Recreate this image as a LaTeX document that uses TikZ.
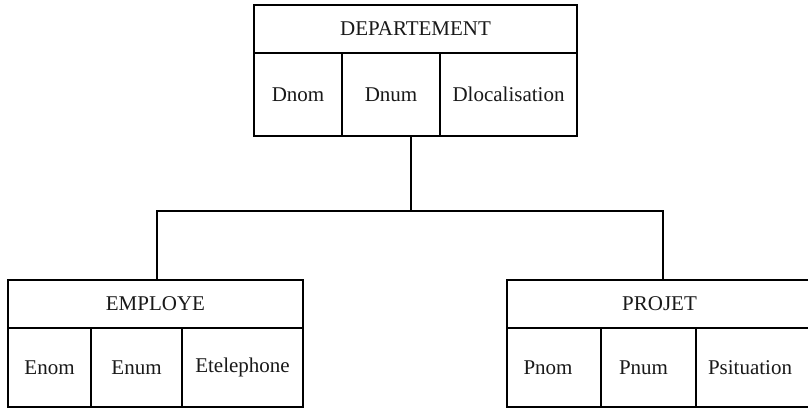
\documentclass[tikz,border=0pt]{standalone}
\usepackage{fontspec}
\setmainfont{Liberation Serif}
\begin{document}
\begin{tikzpicture}[x=1pt,y=-1pt,
  cell/.style={draw, line width=1.5pt, inner sep=0pt, anchor=center,
    font=\fontsize{21}{25}\selectfont, text=black!90},
  link/.style={line width=1.5pt}]
\clip (0,0) rectangle (808,410);
\useasboundingbox (0,0) rectangle (808,410);
\fill[white] (0,0) rectangle (808,410);

% DEPARTEMENT table
\node[cell, minimum width=323pt, minimum height=48pt] (dep) at (415.5,29) {DEPARTEMENT};
\node[cell, minimum width=88pt, minimum height=83pt] (dnom) at (298,94.5) {Dnom};
\node[cell, minimum width=98pt, minimum height=83pt] (dnum) at (391,94.5) {Dnum};
\node[cell, minimum width=137pt, minimum height=83pt] (dloc) at (508.5,94.5) {Dlocalisation};

% EMPLOYE table
\node[cell, minimum width=295pt, minimum height=48pt] (emp) at (155.5,304) {EMPLOYE};
\node[cell, minimum width=83pt, minimum height=79pt] (enom) at (49.5,367.5) {Enom};
\node[cell, minimum width=91pt, minimum height=79pt] (enum) at (136.5,367.5) {Enum};
\node[cell, minimum width=121pt, minimum height=79pt] (etel) at (242.5,367.5) {Etelephone};

% PROJET table
\node[cell, minimum width=305pt, minimum height=48pt] (proj) at (659.5,304) {PROJET};
\node[cell, minimum width=94pt, minimum height=79pt] (pnom) at (554,367.5) {\hspace*{-12pt}Pnom};
\node[cell, minimum width=95pt, minimum height=79pt] (pnum) at (648.5,367.5) {\hspace*{-10pt}Pnum};
\node[cell, minimum width=116pt, minimum height=79pt] (psit) at (754,367.5) {\hspace*{-8pt}Psituation};

% hierarchy links
\coordinate (hub) at (411,211);
\draw[link] (dnum.south -| hub) -- (hub);
\draw[link] (hub) -| (emp.north -| 157,0);
\draw[link] (hub) -| (proj.north -| 663,0);
\end{tikzpicture}
\end{document}
